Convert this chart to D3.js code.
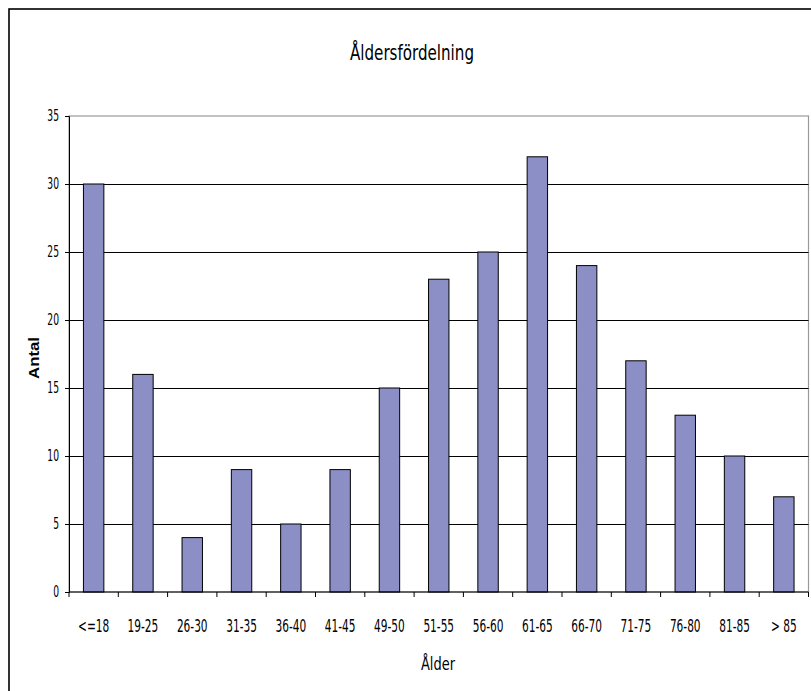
<!DOCTYPE html>
<html>
<head>
<meta charset="utf-8">
<script src="https://cdn.jsdelivr.net/npm/d3@7"></script>
<style>
  body { margin: 0; background: #fff; }
  svg { display: block; }
  .narrow { font-family: "Liberation Sans Narrow", "Arial Narrow", "DejaVu Sans Condensed", sans-serif; fill: #000; }
</style>
</head>
<body>
<script>
// data
var categories = ["<=18", "19-25", "26-30", "31-35", "36-40", "41-45", "49-50", "51-55",
                  "56-60", "61-65", "66-70", "71-75", "76-80", "81-85", "> 85"];
var counts = [30, 16, 4, 9, 5, 9, 15, 23, 25, 32, 24, 17, 13, 10, 7];
var yTicks = [0, 5, 10, 15, 20, 25, 30, 35];

var W = 811, H = 691;
var plot = { left: 69, right: 808.5, top: 116, bottom: 592 };

var svg = d3.select("body").append("svg").attr("width", W).attr("height", H);

// the original font is tall and thin, so measure a sample string and
// squeeze everything by the same factor to hit the width seen in the picture
function factorFor(sample, size, target) {
  var t = svg.append("text").attr("class", "narrow").attr("font-size", size).text(sample);
  var len = t.node().getComputedTextLength();
  t.remove();
  return target / len;
}
function squeeze(sel, f) {
  sel.each(function() {
    var len = this.getComputedTextLength();
    d3.select(this).attr("textLength", len * f).attr("lengthAdjust", "spacingAndGlyphs");
  });
}

// outer chart frame (only top + left visible, rest is cropped)
svg.append("rect")
  .attr("x", 9).attr("y", 9).attr("width", W + 20).attr("height", H + 20)
  .attr("fill", "none").attr("stroke", "#000").attr("stroke-width", 1.6);

var x = d3.scaleBand()
  .domain(categories)
  .range([plot.left, plot.right])
  .paddingInner(0.586)
  .paddingOuter(0.293);

var y = d3.scaleLinear().domain([0, 35]).range([plot.bottom, plot.top]);

// plot border, gray
svg.append("rect")
  .attr("x", plot.left).attr("y", plot.top)
  .attr("width", plot.right - plot.left).attr("height", plot.bottom - plot.top)
  .attr("fill", "none").attr("stroke", "#999").attr("stroke-width", 1.2);

// gridlines
svg.append("g").selectAll("line")
  .data(yTicks.filter(d => d > 0 && d < 35))
  .join("line")
  .attr("x1", plot.left).attr("x2", plot.right)
  .attr("y1", d => Math.round(y(d)) + 0.5).attr("y2", d => Math.round(y(d)) + 0.5)
  .attr("stroke", "#000").attr("stroke-width", 1);

// bars
svg.append("g").selectAll("rect")
  .data(counts)
  .join("rect")
  .attr("x", (d, i) => x(categories[i]))
  .attr("width", x.bandwidth())
  .attr("y", d => y(d))
  .attr("height", d => y(0) - y(d))
  .attr("fill", "#8b8fc6")
  .attr("stroke", "#000").attr("stroke-width", 1);

// y axis
var yAxis = svg.append("g")
  .attr("transform", "translate(" + plot.left + ",0)")
  .call(d3.axisLeft(y).tickValues(yTicks).tickSize(4).tickPadding(6));
yAxis.select(".domain").attr("stroke", "#000");
yAxis.selectAll(".tick line").attr("stroke", "#000");
var fy = factorFor("30", 15.5, 11.7);
yAxis.selectAll("text")
  .attr("class", "narrow")
  .attr("font-size", 15.5)
  .attr("fill", "#000")
  .call(squeeze, fy);

// x axis: ticks sit at the category boundaries
var step = x.step();
var bounds = d3.range(categories.length + 1).map(i => plot.left + i * step);
svg.append("line")
  .attr("x1", plot.left).attr("x2", plot.right)
  .attr("y1", plot.bottom).attr("y2", plot.bottom)
  .attr("stroke", "#000").attr("stroke-width", 1.2);
svg.append("g").selectAll("line")
  .data(bounds)
  .join("line")
  .attr("x1", d => d).attr("x2", d => d)
  .attr("y1", plot.bottom).attr("y2", plot.bottom + 5)
  .attr("stroke", "#000");

var fx = factorFor("61-65", 18, 30.7);
svg.append("g").selectAll("text")
  .data(categories)
  .join("text")
  .attr("class", "narrow")
  .attr("x", d => x(d) + x.bandwidth() / 2)
  .attr("y", 631.5)
  .attr("text-anchor", "middle")
  .attr("font-size", 18)
  .text(d => d)
  .call(squeeze, fx);

// titles
svg.append("text")
  .attr("class", "narrow")
  .attr("x", 412).attr("y", 60)
  .attr("text-anchor", "middle")
  .attr("font-size", 22)
  .attr("textLength", 124).attr("lengthAdjust", "spacingAndGlyphs")
  .text("Åldersfördelning");

svg.append("text")
  .attr("class", "narrow")
  .attr("x", 438).attr("y", 669.5)
  .attr("text-anchor", "middle")
  .attr("font-size", 18)
  .attr("textLength", 34).attr("lengthAdjust", "spacingAndGlyphs")
  .text("Ålder");

svg.append("text")
  .attr("transform", "translate(39,358) rotate(-90)")
  .attr("text-anchor", "middle")
  .attr("font-family", "'Liberation Sans', Arial, sans-serif")
  .attr("font-weight", "bold")
  .attr("font-size", 15)
  .attr("textLength", 42).attr("lengthAdjust", "spacingAndGlyphs")
  .text("Antal");
</script>
</body>
</html>
